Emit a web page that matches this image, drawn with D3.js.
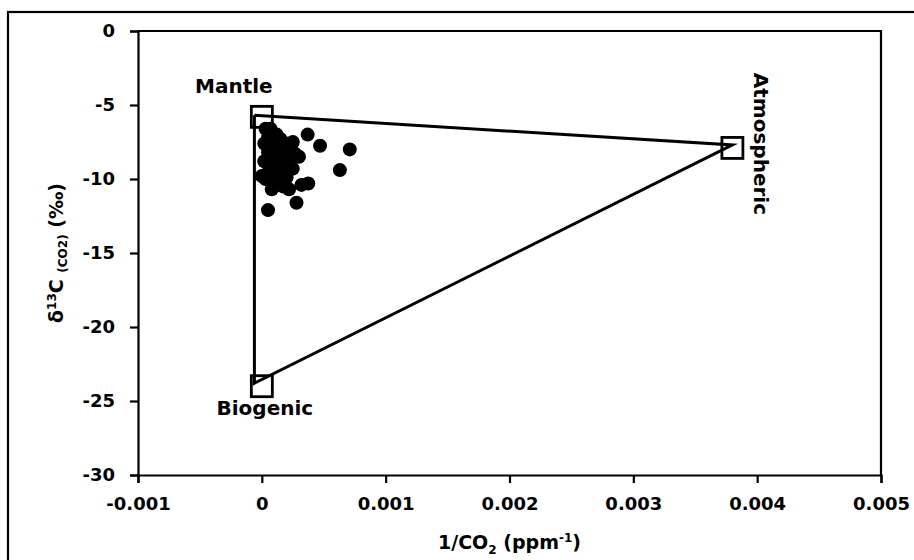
<!DOCTYPE html>
<html lang="en">
<head>
    <meta charset="UTF-8">
    <title>d13C vs 1/CO2</title>
    <script src="https://d3js.org/d3.v7.min.js"></script>
    <style>
        body { margin: 0; background: #fff; }
        text { font-family: "DejaVu Sans", sans-serif; font-weight: bold; fill: #000; }
        .tick text { font-size: 18px; }
        .axis path, .axis line { stroke: #000; stroke-width: 2.2px; }
    </style>
</head>
<body>
    <svg width="914" height="560"></svg>
    <script>
        // samples: 1/CO2 (ppm^-1), d13C (permil)
        const invCO2 = [0.00003, 0.00008, 0.00012, 0.00005, 0.00015, 0.0002, 0.00025, 0.00002, 0.0001, 0.00018,
            0.00027, 0.00005, 0.00013, 0.00022, 0.0003, 0.00002, 0.0001, 0.00018, 0.00025, 0.00006,
            0.00015, 0.0002, 0.00003, 0.0001, 0.00017, 0.00008, 0.00022, 0.0, 0.00012, 0.00007,
            0.00037, 0.00047, 0.00071, 0.00063, 0.000375, 0.00032, 0.00028, 0.00005];
        const d13C = [-6.6, -6.8, -7.0, -7.2, -7.3, -7.6, -7.5, -7.6, -7.8, -8.0,
            -8.3, -8.2, -8.4, -8.6, -8.5, -8.8, -8.9, -9.1, -9.3, -9.4,
            -9.6, -9.9, -10.0, -10.2, -10.5, -10.7, -10.7, -9.8, -9.2, -6.6,
            -7.0, -7.75, -8.0, -9.4, -10.3, -10.4, -11.6, -12.1];

        // end members (square markers) and the mixing triangle
        const endNames = ["Mantle", "Atmospheric", "Biogenic"];
        const endX = [0.0, 0.0038, 0.0];
        const endY = [-5.8, -7.9, -24.0];
        const triX = [-0.00006, 0.0038, -0.00006, -0.00006];
        const triY = [-5.7, -7.7, -23.8, -5.7];

        const xTicks = [-0.001, 0, 0.001, 0.002, 0.003, 0.004, 0.005];
        const yTicks = [0, -5, -10, -15, -20, -25, -30];

        const svg = d3.select("svg");
        const pL = 138, pR = 881, pT = 31, pB = 475;

        // outer frame (runs off the right and bottom edges)
        svg.append("rect").attr("x", 8).attr("y", 12).attr("width", 920).attr("height", 600)
            .attr("fill", "none").attr("stroke", "#000").attr("stroke-width", 2.2);

        const x = d3.scaleLinear().domain([-0.001, 0.005]).range([pL, pR]);
        const y = d3.scaleLinear().domain([-30, 0]).range([pB, pT]);

        // plot border top/right
        svg.append("path")
            .attr("d", `M${pL},${pT}H${pR}V${pB}`)
            .attr("fill", "none").attr("stroke", "#000").attr("stroke-width", 2.2);

        svg.append("g").attr("class", "axis")
            .attr("transform", `translate(0,${pB})`)
            .call(d3.axisBottom(x).tickValues(xTicks).tickSizeOuter(0).tickSize(8).tickPadding(14)
                .tickFormat(d => d === 0 ? "0" : d3.format(".3f")(d).replace("−", "-")));

        svg.append("g").attr("class", "axis")
            .attr("transform", `translate(${pL},0)`)
            .call(d3.axisLeft(y).tickValues(yTicks).tickSizeOuter(0).tickSize(8).tickPadding(15)
                .tickFormat(d => String(d)));

        // triangle
        const line = d3.line().x(d => x(d[0])).y(d => y(d[1]));
        svg.append("path")
            .datum(triX.map((v, i) => [v, triY[i]]))
            .attr("d", line)
            .attr("fill", "none").attr("stroke", "#000").attr("stroke-width", 3);

        // samples
        svg.selectAll(".pt")
            .data(invCO2.map((v, i) => [v, d13C[i]]))
            .enter().append("circle")
            .attr("class", "pt")
            .attr("cx", d => x(d[0])).attr("cy", d => y(d[1]))
            .attr("r", 7).attr("fill", "#000");

        // end-member squares
        const sq = 21;
        svg.selectAll(".end")
            .data(endX.map((v, i) => [v, endY[i]]))
            .enter().append("rect")
            .attr("class", "end")
            .attr("x", d => x(d[0]) - sq / 2).attr("y", d => y(d[1]) - sq / 2)
            .attr("width", sq).attr("height", sq)
            .attr("fill", "none").attr("stroke", "#000").attr("stroke-width", 2.8);

        // end-member labels
        svg.append("text").attr("x", x(endX[0]) - 28).attr("y", y(endY[0]) - 24)
            .attr("text-anchor", "middle").style("font-size", "20px").text(endNames[0]);
        svg.append("text").attr("x", x(endX[2]) + 3).attr("y", y(endY[2]) + 29)
            .attr("text-anchor", "middle").style("font-size", "20px").text(endNames[2]);
        svg.append("text")
            .attr("transform", `translate(${x(endX[1]) + 22},${y(endY[1]) - 4}) rotate(90)`)
            .attr("text-anchor", "middle").style("font-size", "20px").text(endNames[1]);

        // axis titles
        const xt = svg.append("text").attr("x", (pL + pR) / 2).attr("y", 549)
            .attr("text-anchor", "middle").style("font-size", "19px");
        xt.append("tspan").text("1/CO");
        xt.append("tspan").attr("dy", 5).style("font-size", "12px").text("2");
        xt.append("tspan").attr("dy", -5).text(" (ppm");
        xt.append("tspan").attr("dy", -7).style("font-size", "12px").text("-1");
        xt.append("tspan").attr("dy", 7).text(")");

        const yt = svg.append("text")
            .attr("transform", `translate(63,${(pT + pB) / 2}) rotate(-90)`)
            .attr("text-anchor", "middle").style("font-size", "19px");
        yt.append("tspan").text("δ");
        yt.append("tspan").attr("dy", -7).style("font-size", "12px").text("13");
        yt.append("tspan").attr("dy", 7).text("C ");
        yt.append("tspan").attr("dy", 4).style("font-size", "12px").text("(CO2)");
        yt.append("tspan").attr("dy", -4).text(" (‰)");
    </script>
</body>
</html>
